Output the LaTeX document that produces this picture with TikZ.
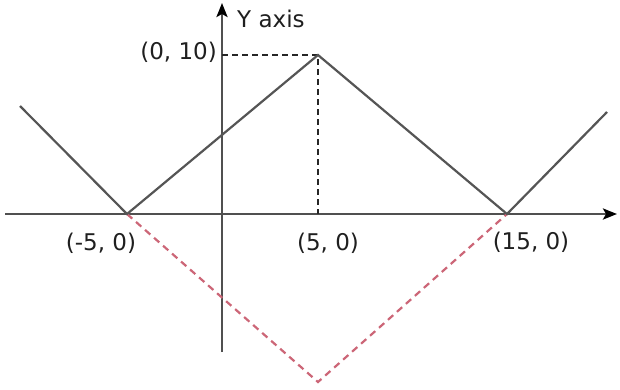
\documentclass[tikz,border=0pt]{standalone}
\usepackage{fontspec}
\setmainfont{DejaVu Sans}
\usetikzlibrary{arrows.meta}
\definecolor{linegray}{HTML}{555555}
\definecolor{axisgray}{HTML}{505050}
\definecolor{dashred}{HTML}{CC6677}
\tikzset{
  axisline/.style={axisgray, line width=2.6pt, -{Stealth[length=14pt,width=11pt,inset=3pt,black]}},
  graphline/.style={linegray, line width=2.2pt},
  guide/.style={black!85, line width=1.8pt, dash pattern=on 6pt off 4pt},
  reddash/.style={dashred, line width=2.2pt, dash pattern=on 7pt off 5pt},
  lbl/.style={font=\fontsize{23pt}{25pt}\selectfont, text=black!88, inner sep=0pt}
}
\begin{document}
\begin{tikzpicture}[x=1pt,y=-1pt]
\useasboundingbox (0,0) rectangle (620,389);
\coordinate (xs) at (5,214);
\coordinate (xe) at (617,214);
\coordinate (ys) at (222,352);
\coordinate (ye) at (222,3);
\coordinate (m5) at (127,214);
\coordinate (p0) at (318,55);
\coordinate (p15) at (507,214);
\coordinate (p5) at (318,214);
\coordinate (yy) at (222,55);
\coordinate (bot) at (318,382);
\coordinate (lt) at (20,106);
\coordinate (rt) at (607,112);
\draw[axisline] (xs) -- (xe);
\draw[axisline] (ys) -- (ye);
\draw[guide] (yy) -- (p0) -- (p5);
\draw[reddash] (m5) -- (bot) -- (p15);
\draw[graphline] (lt) -- (m5) -- (p0) -- (p15) -- (rt);
\node[lbl, anchor=east] (l010) at (217,52) {(0, 10)};
\node[lbl, anchor=west] (ly) at (237,19) {Y axis};
\node[lbl] (lm5) at (101,243) {(-5, 0)};
\node[lbl] (l5) at (328,243) {(5, 0)};
\node[lbl] (l15) at (531,242) {(15, 0)};
\end{tikzpicture}
\end{document}
